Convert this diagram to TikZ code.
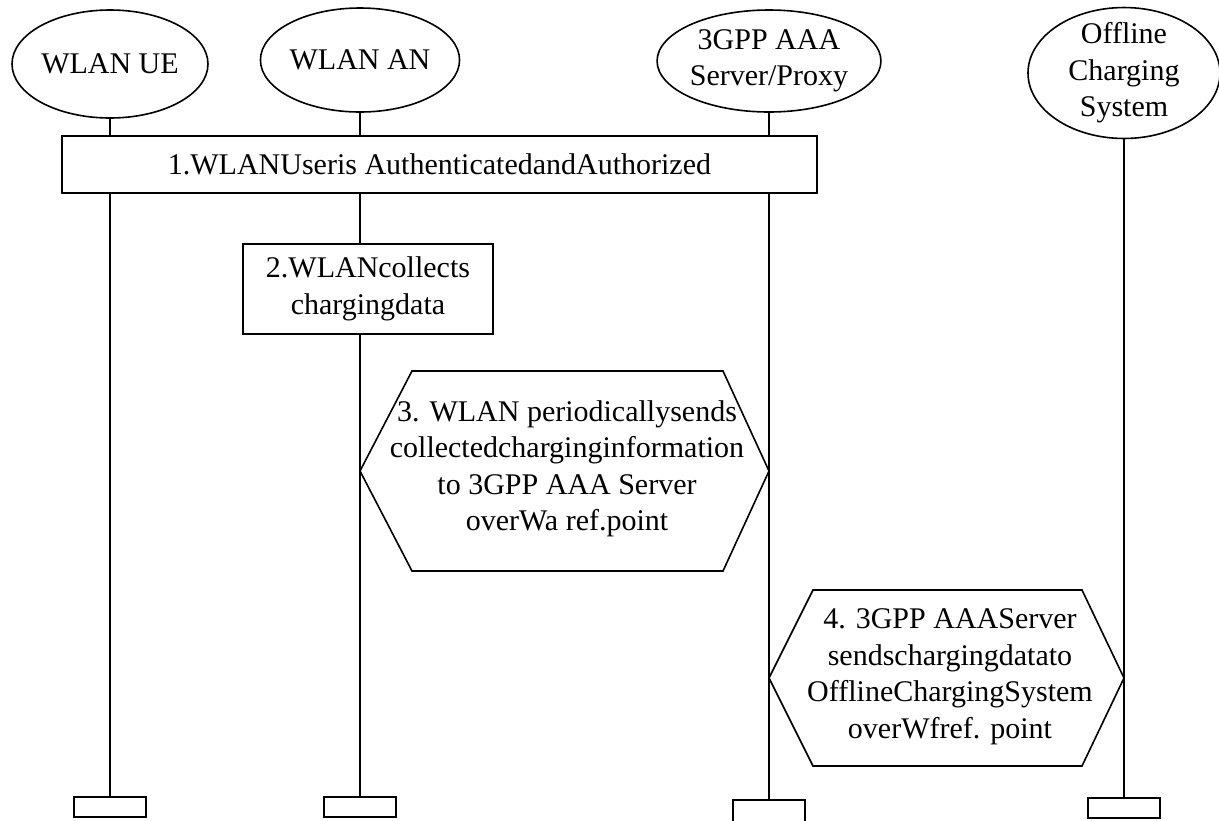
\documentclass[tikz,border=0pt]{standalone}
\usepackage{fontspec}
\setmainfont{Liberation Serif}
\usetikzlibrary{shapes.geometric}

\begin{document}
\begin{tikzpicture}[x=1pt, y=-1pt, line width=1.6pt,
        font=\rmfamily\fontsize{30}{36.5}\selectfont,
        entity/.style={draw, ellipse, inner sep=0pt, align=center},
        msgbox/.style={draw, rectangle, inner sep=0pt, align=center},
        endbox/.style={draw, rectangle, inner sep=0pt, minimum width=72pt, minimum height=20pt}]
    \useasboundingbox (0,0) rectangle (1219,820);
    % entities
    \node[entity, minimum width=196pt, minimum height=108pt] (ue) at (110,64) {WLAN UE};
    \node[entity, minimum width=198pt, minimum height=104pt] (an) at (360,60) {WLAN AN};
    \node[entity, minimum width=218pt, minimum height=102pt] (aaa) at (769,61) {3GPP AAA\\Server/Proxy};
    \node[entity, minimum width=192pt, minimum height=130pt, inner ysep=-4pt] (ocs) at (1124,73) {Offline\\Charging\\System};
    % steps
    \node[msgbox, minimum width=755pt, minimum height=57pt] (m-1) at (439.5,164.5) {1.WLANUseris AuthenticatedandAuthorized};
    \node[msgbox, minimum width=250pt, minimum height=90pt] (m-2) at (368,289) {2.WLANcollects\\chargingdata};
    \node[align=center] (m-3) at (567,469) {3. WLAN periodicallysends\\collectedcharginginformation\\to 3GPP AAA Server\\overWa ref.point};
    \node[align=center] (m-4) at (950,677) {4. 3GPP AAAServer\\sendschargingdatato\\OfflineChargingSystem\\overWfref. point};
    \draw (360,471) -- (412,371) -- (723,371) -- (769,471) -- (723,571) -- (412,571) -- cycle;
    \draw (769,678) -- (813,590) -- (1082,590) -- (1124,678) -- (1082,766) -- (813,766) -- cycle;
    % ends
    \node[endbox] (ue-end) at (110,807) {};
    \node[endbox] (an-end) at (360,807) {};
    \node[endbox, minimum height=22pt] (aaa-end) at (769,811) {};
    \node[endbox] (ocs-end) at (1124,808) {};
    % lifelines
    \draw (ue) -- (ue |- m-1.north) (ue |- m-1.south) -- (ue-end);
    \draw (an) -- (an |- m-1.north) (an |- m-1.south) -- (an |- m-2.north) (an |- m-2.south) -- (an-end);
    \draw (aaa) -- (aaa |- m-1.north) (aaa |- m-1.south) -- (aaa-end);
    \draw (ocs) -- (ocs-end);
\end{tikzpicture}
\end{document}
